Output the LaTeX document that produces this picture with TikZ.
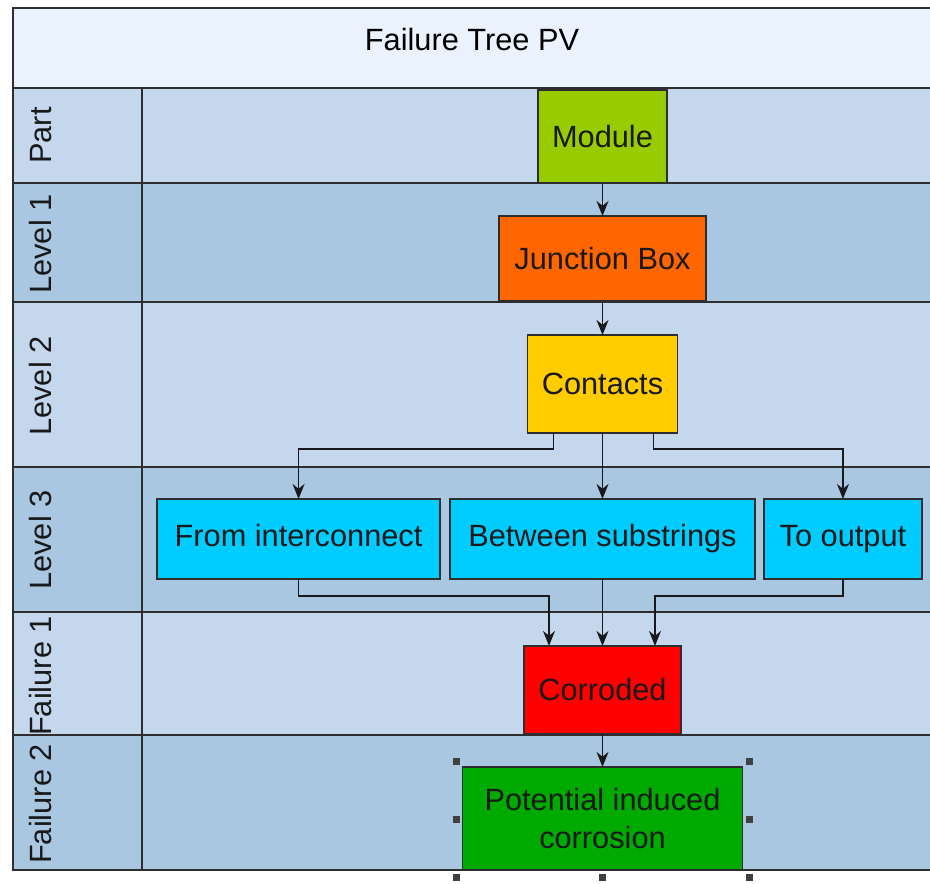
\documentclass[tikz,border=0pt]{standalone}
\usepackage{fontspec}
\setmainfont{Liberation Sans}
\usepackage{xcolor}
\usetikzlibrary{arrows.meta, positioning, calc}

\definecolor{headfill}{HTML}{EAF2FD}
\definecolor{lanelight}{HTML}{C4D7EC}
\definecolor{lanedark}{HTML}{A9C7E1}
\definecolor{framegray}{HTML}{2E2E2E}
\definecolor{modgreen}{HTML}{99CC00}
\definecolor{jbxorange}{HTML}{FF6600}
\definecolor{conyellow}{HTML}{FFCC00}
\definecolor{subcyan}{HTML}{00CCFF}
\definecolor{corred}{HTML}{FF0000}
\definecolor{pidgreen}{HTML}{00AA00}

\begin{document}
\begin{tikzpicture}[
        x=0.02cm, y=-0.02cm,
        font=\fontsize{17.5}{21.5}\selectfont,
        box/.style = {rectangle, draw=framegray, line width=0.7pt, inner sep=0pt, outer sep=0pt, align=center, text=black!90},
        subbox/.style = {box, fill=subcyan, minimum height=1.6cm, text height=0.95em, text depth=0.1em},
        lanelbl/.style = {rotate=90, anchor=center, text=black!90},
        edge/.style = {-{Stealth[length=0.3cm, width=0.24cm]}, line width=0.8pt, black!90},
        frame/.style = {draw=framegray, line width=1.1pt},
        handle/.style = {fill=black!75}
    ]
    \useasboundingbox (0,0) rectangle (930,883);

    % lanes
    \fill[headfill] (13,8) rectangle (940,88);
    \fill[lanelight] (13,88) rectangle (940,183);
    \fill[lanedark] (13,183) rectangle (940,302);
    \fill[lanelight] (13,302) rectangle (940,467);
    \fill[lanedark] (13,467) rectangle (940,612);
    \fill[lanelight] (13,612) rectangle (940,735);
    \fill[lanedark] (13,735) rectangle (940,870);

    \draw[frame] (940,8) -- (13,8) -- (13,870) -- (940,870);
    \draw[frame] (13,88) -- (940,88);
    \draw[frame] (13,183) -- (940,183);
    \draw[frame] (13,302) -- (940,302);
    \draw[frame] (13,467) -- (940,467);
    \draw[frame] (13,612) -- (940,612);
    \draw[frame] (13,735) -- (940,735);
    \draw[frame] (142,88) -- (142,870);

    \node (title) at (472,40) {Failure Tree PV};
    \node[lanelbl] (lpart) at (41,135.5) {Part};
    \node[lanelbl] (llev1) at (41,244) {Level 1};
    \node[lanelbl] (llev2) at (41,386) {Level 2};
    \node[lanelbl] (llev3) at (41,540) {Level 3};
    \node[lanelbl] (lfail1) at (41,676) {Failure 1};
    \node[lanelbl] (lfail2) at (41,804) {Failure 2};

    % tree
    \node[box, fill=modgreen, minimum width=2.58cm, minimum height=1.86cm] (module) at (602.5,136.5) {Module};
    \node[box, fill=jbxorange, minimum width=4.14cm, minimum height=1.70cm, below=0.66cm of module] (jbox) {Junction Box};
    \node[box, fill=conyellow, minimum width=3.0cm, minimum height=1.96cm, below=0.68cm of jbox] (contacts) {Contacts};
    \node[subbox, minimum width=6.1cm, below=1.32cm of contacts] (between) {Between substrings};
    \node[subbox, minimum width=5.66cm, left=0.2cm of between] (interc) {From interconnect};
    \node[subbox, minimum width=3.16cm, right=0.18cm of between] (output) {To output};
    \node[box, fill=corred, minimum width=3.14cm, minimum height=1.76cm, below=1.34cm of between] (corroded) {Corroded};
    \node[box, fill=pidgreen, minimum width=5.6cm, minimum height=2.06cm, below=0.66cm of corroded] (pid) {Potential induced\\corrosion};

    \draw[edge] (module) -- (jbox);
    \draw[edge] (jbox) -- (contacts);
    \draw[edge] ([xshift=-0.98cm]contacts.south) -- ++(0,16) -| (interc.north);
    \draw[edge] (contacts) -- (between);
    \draw[edge] ([xshift=1.02cm]contacts.south) -- ++(0,16) -| (output.north);
    \draw[edge] (interc.south) -- ++(0,17) -| ([xshift=-1.07cm]corroded.north);
    \draw[edge] (between) -- (corroded);
    \draw[edge] (output.south) -- ++(0,17) -| ([xshift=1.05cm]corroded.north);
    \draw[edge] (corroded) -- (pid);

    % selection handles
    \fill[handle] (453,758) rectangle ++(7,7);
    \fill[handle] (746,758) rectangle ++(7,7);
    \fill[handle] (453,816) rectangle ++(7,7);
    \fill[handle] (746,816) rectangle ++(7,7);
    \fill[handle] (453,874) rectangle ++(7,7);
    \fill[handle] (599,874) rectangle ++(7,7);
    \fill[handle] (746,874) rectangle ++(7,7);
\end{tikzpicture}
\end{document}
